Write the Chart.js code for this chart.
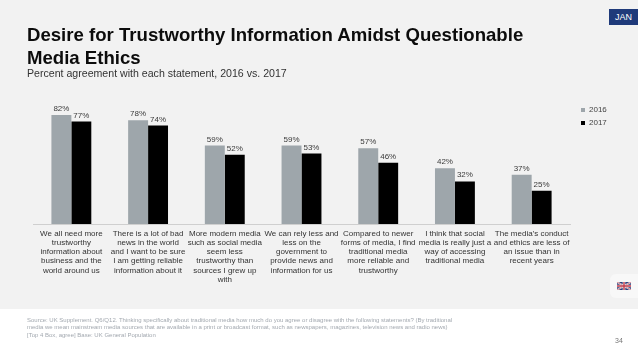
<!DOCTYPE html>
<html><head><meta charset="utf-8">
<script src="https://cdn.jsdelivr.net/npm/chart.js@4"></script>
<style>
html,body{margin:0;padding:0;background:#fff;}
#page{position:relative;width:638px;height:359px;overflow:hidden;background:#fff;font-family:"Liberation Sans",Arial,sans-serif;}
#panel{position:absolute;left:0;top:0;width:638px;height:309px;background:#f2f2f2;}
#c{position:absolute;left:0;top:0;width:638px;height:359px;}
.t{position:absolute;white-space:nowrap;}
#title{left:27px;top:24px;font-size:18.6px;line-height:22.5px;font-weight:bold;color:#0c0c0c;}
#sub{left:27px;top:67px;font-size:10.6px;line-height:13px;color:#333;}
#jan{left:609px;top:9px;width:29px;height:16px;background:#1f3a7a;color:#fff;font-size:9px;line-height:16px;text-align:center;}
#flagbox{position:absolute;left:610px;top:274px;width:34px;height:24px;border-radius:6px;background:#f8f8f8;}
#flag{position:absolute;left:617px;top:282px;}
#src{left:27px;top:316.5px;font-size:6px;line-height:7.6px;color:#a3a9b0;}
#pg{left:615px;top:336px;font-size:7px;line-height:10px;color:#777;}
</style></head>
<body>
<div id="page">
<div id="panel"></div>
<canvas id="c" width="638" height="359"></canvas>
<div class="t" id="title">Desire for Trustworthy Information Amidst Questionable<br>Media Ethics</div>
<div class="t" id="sub">Percent agreement with each statement, 2016 vs. 2017</div>
<div class="t" id="jan">JAN</div>
<div id="flagbox"></div>
<svg id="flag" width="14" height="8" viewBox="0 0 14 8">
<rect width="14" height="8" fill="#2a3f7e"/>
<path d="M0 0L14 8M14 0L0 8" stroke="#eee" stroke-width="1.6"/>
<path d="M0 0L14 8M14 0L0 8" stroke="#c23a4a" stroke-width="0.6"/>
<path d="M7 0V8M0 4H14" stroke="#eee" stroke-width="2.6"/>
<path d="M7 0V8M0 4H14" stroke="#c23a4a" stroke-width="1.4"/>
</svg>
<div class="t" id="src">Source: UK Supplement. Q6/Q12. Thinking specifically about traditional media how much do you agree or disagree with the following statements? (By traditional<br>media we mean mainstream media sources that are available in a print or broadcast format, such as newspapers, magazines, television news and radio news)<br>[Top 4 Box, agree] Base: UK General Population</div>
<div class="t" id="pg">34</div>
</div>
<script>
const categories = [
  ["We all need more","trustworthy","information about","business and the","world around us"],
  ["There is a lot of bad","news in the world","and I want to be sure","I am getting reliable","information about it"],
  ["More modern media","such as social media","seem less","trustworthy than","sources I grew up","with"],
  ["We can rely less and","less on the","government to","provide news and","information for us"],
  ["Compared to newer","forms of media, I find","traditional media","more reliable and","trustworthy"],
  ["I think that social","media is really just a","way of accessing","traditional media"],
  ["The media\u2019s conduct","and ethics are less of","an issue than in","recent years"]
];
const values2016 = [82,78,59,59,57,42,37];
const values2017 = [77,74,52,53,46,32,25];

const valueLabels = {
  id:'valueLabels',
  afterDatasetsDraw(chart){
    const ctx = chart.ctx;
    ctx.save();
    ctx.font = '8px "Liberation Sans", Arial, sans-serif';
    ctx.fillStyle = '#3a3a3a';
    ctx.textAlign = 'center';
    ctx.textBaseline = 'alphabetic';
    chart.data.datasets.forEach((ds,i)=>{
      chart.getDatasetMeta(i).data.forEach((el,j)=>{
        ctx.fillText(ds.data[j]+'%', el.x, el.y-4);
      });
    });
    ctx.restore();
  }
};
const moveLegend = {
  id:'moveLegend',
  afterLayout(chart){
    const l = chart.legend;
    const w = l.width, h = l.height;
    l.left = 576; l.right = 576+w; l.top = 101; l.bottom = 101+h;
  }
};

new Chart(document.getElementById('c'),{
  type:'bar',
  data:{labels:categories,datasets:[
    {label:'2016',data:values2016,backgroundColor:'#9ea6ab',borderWidth:0},
    {label:'2017',data:values2017,backgroundColor:'#000000',borderWidth:0}
  ]},
  plugins:[valueLabels,moveLegend],
  options:{
    responsive:false,animation:false,
    layout:{padding:{left:33,right:68,top:91,bottom:0}},
    datasets:{bar:{barPercentage:1,categoryPercentage:0.52}},
    plugins:{
      title:{display:false},tooltip:{enabled:false},
      legend:{position:'chartArea',align:'start',
        labels:{boxWidth:4,boxHeight:4,padding:5,color:'#444',
          font:{size:8,family:'"Liberation Sans", Arial, sans-serif'}}}
    },
    scales:{
      y:{display:false,min:0,max:100},
      x:{
        afterFit(s){s.height=135;},
        grid:{display:false,drawTicks:false},
        border:{color:'#cfcfcf',width:1},
        ticks:{autoSkip:false,maxRotation:0,minRotation:0,padding:5,color:'#333',
          font:{size:8,lineHeight:1.15,family:'"Liberation Sans", Arial, sans-serif'}}
      }
    }
  }
});
</script>
</body></html>
